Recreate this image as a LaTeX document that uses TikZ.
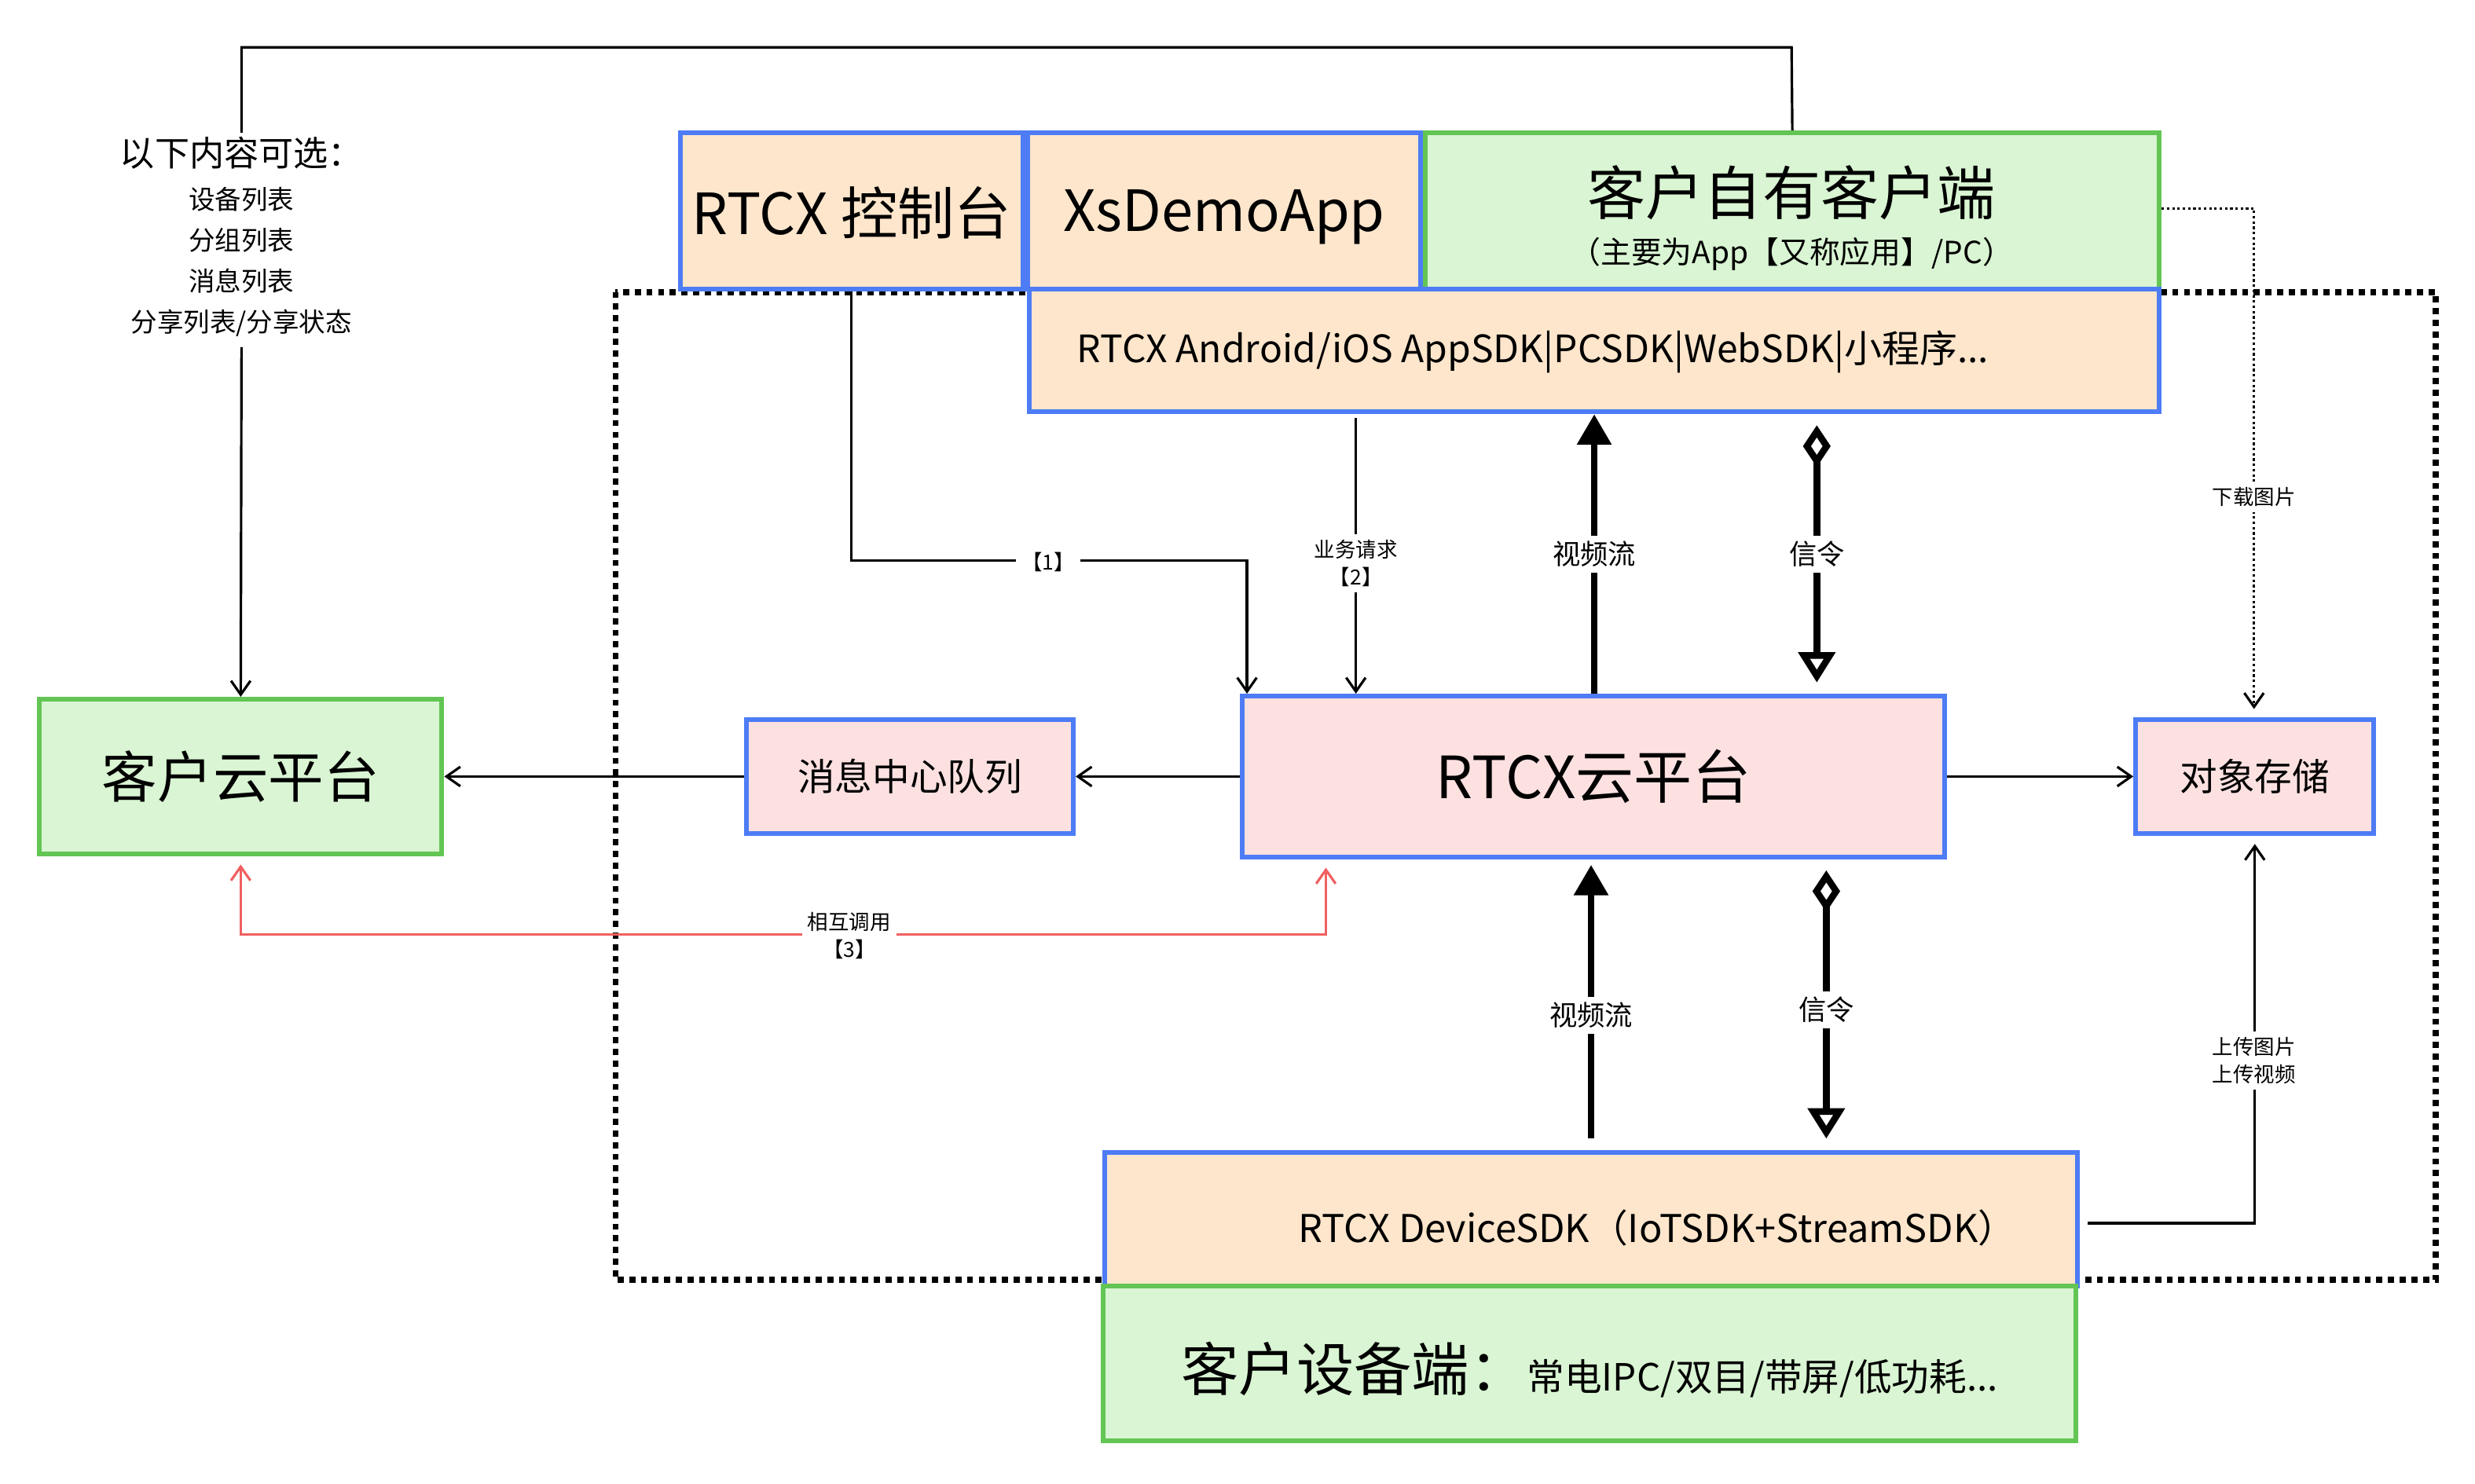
\documentclass[tikz,border=0pt]{standalone}
\usepackage{fontspec}
\setmainfont{Noto Sans CJK SC}
\usetikzlibrary{arrows.meta}
\definecolor{gfill}{HTML}{D9F5D3}\definecolor{gline}{HTML}{62C554}
\definecolor{pfill}{HTML}{FDE6CC}\definecolor{bline}{HTML}{4D7CF5}
\definecolor{rfill}{HTML}{FDE1E1}\definecolor{redl}{HTML}{F06060}
\begin{document}
\begin{tikzpicture}[x=0.02cm,y=-0.02cm,
 gbox/.style={draw=gline,fill=gfill,line width=1.7pt,inner sep=0pt},
 pbox/.style={draw=bline,fill=pfill,line width=1.7pt,inner sep=0pt},
 rbox/.style={draw=bline,fill=rfill,line width=1.7pt,inner sep=0pt},
 thin/.style={line width=0.9pt,-{Straight Barb[length=5pt,width=7pt]}},
 thick/.style={line width=2.4pt,-{Triangle[length=11pt,width=12pt]}},
 sig/.style={line width=2.4pt,{Diamond[open,length=15pt,width=10pt]}-{Triangle[open,length=11pt,width=13pt]}},
 lab/.style={fill=white,font=\fontsize{7.5}{10}\selectfont,align=center,inner sep=2pt}]
\useasboundingbox (0,0) rectangle (1568,940);
\draw[line width=2.2pt,dotted] (390,185) rectangle (1543,811);
\node[gbox,minimum width=5.1cm,minimum height=1.96cm,font=\fontsize{20}{24}\selectfont] (cloud) at (152.5,492) {客户云平台};
\node[pbox,minimum width=4.34cm,minimum height=1.98cm,font=\fontsize{20.5}{24}\selectfont,text depth=-4pt] (ctl) at (539.5,133.5) {RTCX 控制台};
\node[pbox,minimum width=4.98cm,minimum height=1.98cm,font=\fontsize{20.5}{24}\selectfont,text depth=-4pt] (xs) at (775.5,133.5) {XsDemoApp};
\node[gbox,minimum width=9.3cm,minimum height=1.98cm] (own) at (1135.5,133.5) {};
\node[font=\fontsize{21}{24}\selectfont] (ownt) at (1135,122) {客户自有客户端};
\node[font=\fontsize{11}{14}\selectfont] (owns) at (1135,161) {（主要为App【又称应用】/PC）};
\node[pbox,minimum width=14.32cm,minimum height=1.56cm] (sdk) at (1010,222) {};
\node[anchor=west,font=\fontsize{13.6}{16}\selectfont,inner sep=0pt] (sdkt) at (682,223) {RTCX Android/iOS AppSDK|PCSDK|WebSDK|小程序...};
\node[rbox,minimum width=8.9cm,minimum height=2.04cm,font=\fontsize{21}{24}\selectfont] (rtcx) at (1009.5,492) {RTCX云平台};
\node[rbox,minimum width=4.14cm,minimum height=1.44cm,font=\fontsize{13.5}{16}\selectfont] (msg) at (576.5,492) {消息中心队列};
\node[rbox,minimum width=3.02cm,minimum height=1.44cm,font=\fontsize{13.5}{16}\selectfont] (obj) at (1428.5,492) {对象存储};
\node[pbox,minimum width=12.32cm,minimum height=1.7cm] (dev) at (1008,772.5) {};
\node[font=\fontsize{13.8}{16}\selectfont] (devt) at (1050,778) {RTCX DeviceSDK（IoTSDK+StreamSDK）};
\node[gbox,minimum width=12.32cm,minimum height=1.96cm] (cd) at (1007,864) {};
\node[font=\fontsize{13.5}{16}\selectfont] (cdt) at (1007,868) {{\fontsize{20.8}{24}\selectfont 客户设备端：}常电IPC/双目/带屏/低功耗...};
\node[align=center,font=\fontsize{9.5}{14.7}\selectfont,inner sep=0pt] (opt) at (153,150) {{\fontsize{12.5}{14}\selectfont 以下内容可选：}\\[1pt]设备列表\\分组列表\\消息列表\\分享列表/分享状态};
% top line
\draw[line width=0.9pt] (153,84) -- (153,30) -- (1135,30) -- (own.north);
\draw[thin] (153,220) -- (cloud.north);
% [1]
\coordinate (p1) at (790,0);
\draw[thin] (ctl.south) |- (790,355) -- (rtcx.north -| p1);
\node[lab] (l1) at (664,356) {【1】};
\coordinate (p2) at (859,265);
\draw[thin] (p2) -- (rtcx.north -| p2);
\node[lab] (l2) at (859,357) {业务请求\\【2】};
\coordinate (p3) at (1010,0);
\draw[thick] (rtcx.north -| p3) -- (sdk.south -| p3) node[lab,pos=0.5,font=\fontsize{10}{12}\selectfont] (l3) {视频流};
\coordinate (p4) at (1151,0);
\draw[sig] ([yshift=-4pt]sdk.south -| p4) -- ([yshift=4pt]rtcx.north -| p4) node[lab,pos=0.5,font=\fontsize{10}{12}\selectfont] (l4) {信令};
\draw[thin] (rtcx.west) -- (msg.east);
\draw[thin] (msg.west) -- (cloud.east);
\draw[thin] (rtcx.east) -- (obj.west);
% red
\coordinate (p5) at (840,0);
\draw[line width=0.9pt,redl,{Straight Barb[length=5pt,width=7pt]}-{Straight Barb[length=5pt,width=7pt]}] ([yshift=-3pt]cloud.south) |- (840,592) -- ([yshift=-3pt]rtcx.south -| p5);
\node[lab] (l5) at (538,593) {相互调用\\【3】};
% download
\coordinate (p6) at (1428,0);
\draw[line width=0.9pt,densely dotted,-{Straight Barb[length=5pt,width=7pt]}] (own.east |- 0,132) -- (1428,132) -- ([yshift=3pt]obj.north -| p6);
\node[lab] (l6) at (1428,315) {下载图片};
% lower
\coordinate (p7) at (1008,0);
\draw[thick] ([yshift=4pt]dev.north -| p7) -- ([yshift=-2pt]rtcx.south -| p7) node[lab,pos=0.45,font=\fontsize{10}{12}\selectfont] (l7) {视频流};
\coordinate (p8) at (1157,0);
\draw[sig] ([yshift=-4pt]rtcx.south -| p8) -- ([yshift=4pt]dev.north -| p8) node[lab,pos=0.52,font=\fontsize{10}{12}\selectfont] (l8) {信令};
\draw[thin] ([xshift=3pt]dev.east |- 0,775) -| ([yshift=-3pt]obj.south);
\node[lab] (l9) at (1428,672) {上传图片\\上传视频};
\end{tikzpicture}
\end{document}
